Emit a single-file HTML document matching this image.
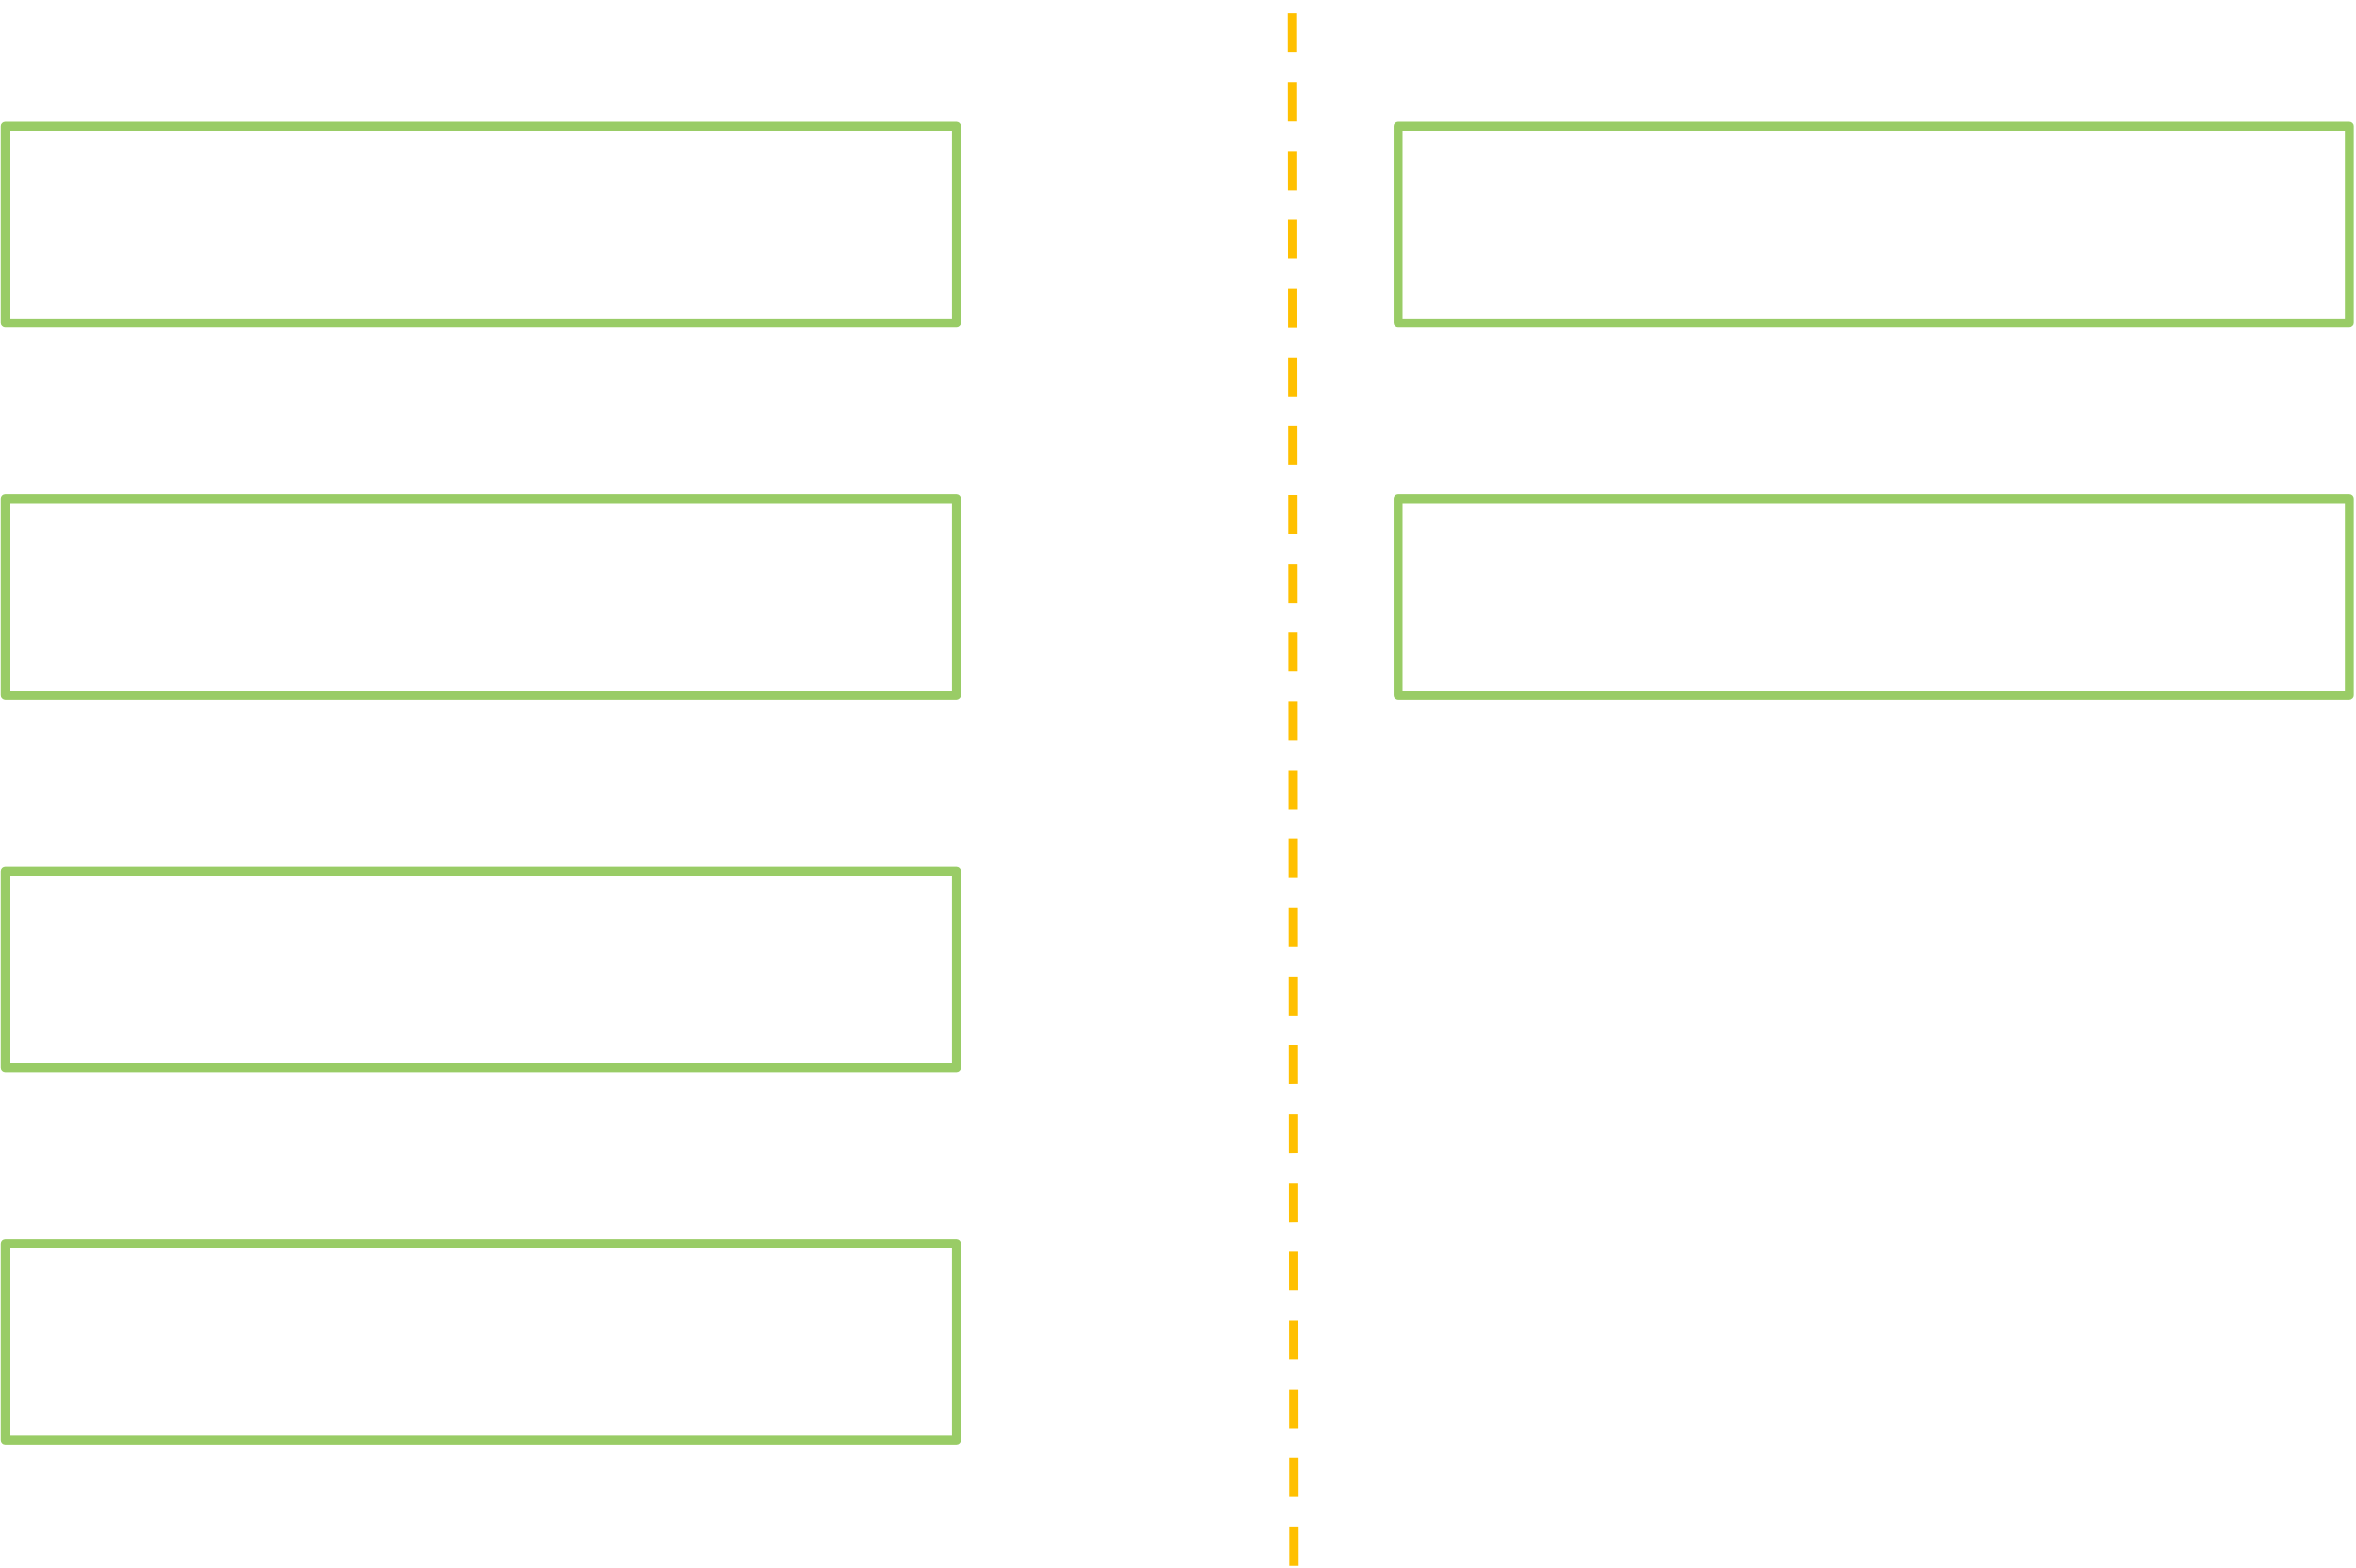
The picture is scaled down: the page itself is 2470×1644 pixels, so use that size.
<!DOCTYPE html>
<html>
<head>
<meta charset="utf-8">
<style>
html,body{margin:0;padding:0;background:#fff;}
svg{display:block;}
</style>
</head>
<body>
<svg width="2470" height="1644" viewBox="0 0 1568 1044" preserveAspectRatio="none" xmlns="http://www.w3.org/2000/svg">
<rect width="1568" height="1044" fill="#fff"/>
<g fill="none" stroke="#99cc66" stroke-width="6" stroke-linejoin="round">
<rect x="3.5" y="84" width="633" height="131"/>
<rect x="3.5" y="332" width="633" height="131"/>
<rect x="3.5" y="580" width="633" height="131"/>
<rect x="3.5" y="828" width="633" height="131"/>
<rect x="930.5" y="84" width="633" height="131"/>
<rect x="930.5" y="332" width="633" height="131"/>
</g>
<line x1="860" y1="9" x2="861" y2="1044" stroke="#ffc000" stroke-width="6.3" stroke-dasharray="26 19.8"/>
</svg>
</body>
</html>
